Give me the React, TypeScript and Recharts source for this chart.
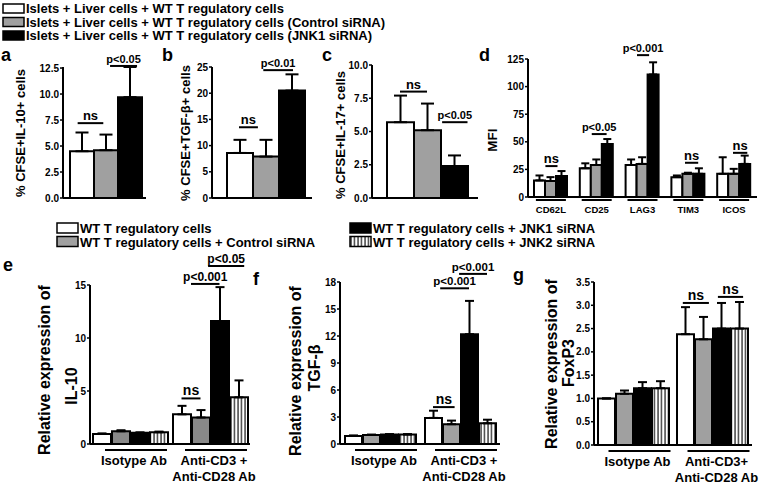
import React from 'react';
import { BarChart, Bar, XAxis, YAxis, ErrorBar, ReferenceLine } from 'recharts';

const FONT = '"Liberation Sans", Arial, sans-serif';

// legends
const topGroups = [
  'Islets + Liver cells + WT T regulatory cells',
  'Islets + Liver cells + WT T regulatory cells (Control siRNA)',
  'Islets + Liver cells + WT T regulatory cells (JNK1 siRNA)',
];
const bottomGroups = [
  'WT T regulatory cells',
  'WT T regulatory cells + Control siRNA',
  'WT T regulatory cells + JNK1 siRNA',
  'WT T regulatory cells + JNK2 siRNA',
];

// a-c: one value per group (white, gray, black)
const il10Mean = [4.5, 4.6, 9.7];
const il10Err = [1.8, 1.5, 2.9];
const tgfMean = [8.6, 7.9, 20.5];
const tgfErr = [2.5, 3.2, 3.1];
const il17Mean = [5.7, 5.1, 2.4];
const il17Err = [2.0, 2.0, 0.8];

// d: MFI
const markers = ['CD62L', 'CD25', 'LAG3', 'TIM3', 'ICOS'];
const mfiWhite = [15, 26, 29, 18, 21];
const mfiWhiteErr = [4.5, 4.5, 5, 1.5, 15];
const mfiGray = [14.5, 29, 30, 21, 21];
const mfiGrayErr = [3.5, 5, 6, 1, 4.5];
const mfiBlack = [19, 48, 111, 21, 30];
const mfiBlackErr = [4.5, 4.5, 11, 5, 7.5];

// e-g: isotype vs stimulated
const stimE = ['Isotype Ab', 'Anti-CD3 +\nAnti-CD28 Ab'];
const stimG = ['Isotype Ab', 'Anti-CD3+\nAnti-CD28 Ab'];
const il10RelMean = [[0.95, 2.8], [1.2, 2.5], [1.05, 11.6], [1.1, 4.4]];
const il10RelErr = [[0.05, 0.8], [0.1, 0.7], [0.05, 3.2], [0.07, 1.6]];
const tgfRelMean = [[0.9, 2.9], [1.0, 2.2], [1.05, 12.2], [1.05, 2.3]];
const tgfRelErr = [[0.05, 0.8], [0.05, 0.4], [0.05, 3.7], [0.05, 0.4]];
const foxRelMean = [[1.0, 2.38], [1.1, 2.27], [1.22, 2.5], [1.22, 2.5]];
const foxRelErr = [[0, 0.58], [0.07, 0.48], [0.13, 0.55], [0.15, 0.57]];

// tick labels
const ticksA = [0, 2.5, 5, 7.5, 10, 12.5];
const ticksB = [0, 5, 10, 15, 20, 25];
const ticksC = [0, 2.5, 5, 7.5, 10];
const ticksD = [0, 25, 50, 75, 100, 125];
const ticksE = [0, 5, 10, 15];
const ticksF = [0, 3, 6, 9, 12, 15, 18];
const ticksG = [0, 0.5, 1, 1.5, 2, 2.5, 3, 3.5];

type Sig = { cat: number; from: number; to: number; y: number; text: string };
const sigA: Sig[] = [
  { cat: 0, from: -0.05, to: 0.9, y: 7.2, text: 'ns' },
  { cat: 0, from: 1.15, to: 2.15, y: 12.7, text: 'p<0.05' },
];
const sigB: Sig[] = [
  { cat: 0, from: 0, to: 0.7, y: 13.5, text: 'ns' },
  { cat: 0, from: 0.9, to: 2, y: 24.4, text: 'p<0.01' },
];
const sigC: Sig[] = [
  { cat: 0, from: 0, to: 1, y: 8.0, text: 'ns' },
  { cat: 0, from: 1.56, to: 2.5, y: 5.7, text: 'p<0.05' },
];
const sigD: Sig[] = [
  { cat: 0, from: 0.5, to: 1.6, y: 28, text: 'ns' },
  { cat: 1, from: 0.55, to: 1.9, y: 57, text: 'p<0.05' },
  { cat: 2, from: 0.5, to: 1.6, y: 128.5, text: 'p<0.001' },
  { cat: 3, from: 0.7, to: 1.9, y: 31, text: 'ns' },
  { cat: 4, from: 0.9, to: 2.2, y: 40, text: 'ns' },
];
const sigE: Sig[] = [
  { cat: 1, from: 0, to: 1, y: 4.3, text: 'ns' },
  { cat: 1, from: 0.5, to: 2, y: 15.1, text: 'p<0.001' },
  { cat: 1, from: 1.4, to: 3.3, y: 16.8, text: 'p<0.05' },
];
const sigF: Sig[] = [
  { cat: 1, from: 0, to: 1.2, y: 4.1, text: 'ns' },
  { cat: 1, from: 0.4, to: 2, y: 17.3, text: 'p<0.001' },
  { cat: 1, from: 1.45, to: 3, y: 18.9, text: 'p<0.001' },
];
const sigG: Sig[] = [
  { cat: 1, from: -0.15, to: 1.3, y: 3.05, text: 'ns' },
  { cat: 1, from: 1.8, to: 3.2, y: 3.18, text: 'ns' },
];

const oneRow = (mean: number[], err: number[]) => {
  const r: any = { name: 'all' };
  mean.forEach((v, i) => {
    r['v' + i] = v;
    r['e' + i] = err[i];
  });
  return [r];
};

const byCat = (cats: string[], means: number[][], errs: number[][]) =>
  cats.map((c, j) => {
    const r: any = { name: c };
    means.forEach((m, i) => {
      r['v' + i] = m[j];
      r['e' + i] = errs[i][j];
    });
    return r;
  });

const dTick = (p: any) => (
  <g>
    <line x1={p.x - 15} x2={p.x + 15} y1={p.y + 3} y2={p.y + 3} stroke="#000" strokeWidth={2} />
    <text x={p.x} y={p.y + 16} textAnchor="middle" fontSize={9.5} fontWeight="bold" fill="#000">
      {p.payload.value}
    </text>
  </g>
);

const stimTick = (p: any) => {
  const lines = String(p.payload.value).split('\n');
  return (
    <g>
      <line x1={p.x - 25} x2={p.x + 37} y1={p.y + 6} y2={p.y + 6} stroke="#000" strokeWidth={2} />
      {lines.map((t, i) => (
        <text key={i} x={p.x + 4} y={p.y + 21 + i * 16} textAnchor="middle" fontSize={13} fontWeight="bold" fill="#000">
          {t}
        </text>
      ))}
    </g>
  );
};

type Cfg = {
  id: string;
  left: number;
  top: number;
  x0: number;
  x1: number;
  y0: number;
  y1: number;
  rows: any[];
  fills: string[];
  ticks: number[];
  dec: number;
  barSize: number;
  barGap: number;
  padL: number;
  padR: number;
  cap: number;
  sigs: Sig[];
  xh: number;
  tick: any;
  nsSize: number;
  pSize: number;
  mr: number;
};

function Panel({ c }: { c: Cfg }) {
  const yw = c.x0 - c.left;
  const mt = c.y0 - c.top;
  const mb = 6;
  const w = yw + (c.x1 - c.x0) + c.mr;
  const h = mt + (c.y1 - c.y0) + c.xh + mb;
  const n = c.fills.length;
  const step = c.barSize + c.barGap;
  const max = c.ticks[c.ticks.length - 1];

  const sigShape = (s: Sig) => (p: any) => {
    const off = (i: number) => (i - (n - 1) / 2) * step;
    const xa = p.x1 + off(s.from);
    const xb = p.x1 + off(s.to);
    const size = s.text === 'ns' ? c.nsSize : c.pSize;
    return (
      <g>
        <line x1={xa} x2={xb} y1={p.y1} y2={p.y1} stroke="#000" strokeWidth={2} />
        <text x={(xa + xb) / 2} y={p.y1 - 3} textAnchor="middle" fontSize={size} fontWeight="bold" fill="#000">
          {s.text}
        </text>
      </g>
    );
  };

  return (
    <div style={{ position: 'absolute', left: c.left, top: c.top }}>
      <BarChart
        width={w}
        height={h}
        data={c.rows}
        margin={{ top: mt, right: c.mr, left: 0, bottom: mb }}
        barSize={c.barSize}
        barGap={c.barGap}
      >
        <defs>
          <pattern id={c.id + 'stripe'} width={3.5} height={4} patternUnits="userSpaceOnUse">
            <rect width={3.5} height={4} fill="#fff" />
            <line x1={1} y1={0} x2={1} y2={4} stroke="#000" strokeWidth={1.1} />
          </pattern>
        </defs>
        <XAxis
          dataKey="name"
          axisLine={{ stroke: '#000', strokeWidth: 2 }}
          tickLine={false}
          tickSize={0}
          tickMargin={0}
          height={c.xh}
          interval={0}
          padding={{ left: c.padL, right: c.padR }}
          tick={c.tick}
        />
        <YAxis
          width={yw}
          domain={[0, max]}
          ticks={c.ticks}
          interval={0}
          tickFormatter={(v: number) => v.toFixed(c.dec)}
          axisLine={{ stroke: '#000', strokeWidth: 2 }}
          tickLine={{ stroke: '#000', strokeWidth: 1.5 }}
          tickSize={3}
          tickMargin={1}
          tick={{ fontSize: 10, fontWeight: 'bold', fill: '#000' }}
        />
        {c.fills.map((f, i) => (
          <Bar
            key={i}
            dataKey={'v' + i}
            fill={f === 'stripe' ? `url(#${c.id}stripe)` : f}
            stroke="#000"
            strokeWidth={2}
            isAnimationActive={false}
          >
            <ErrorBar
              dataKey={(d: any) => [0, d['e' + i]]}
              width={c.cap}
              stroke="#000"
              strokeWidth={2}
              isAnimationActive={false}
            />
          </Bar>
        ))}
        {c.sigs.map((s, k) => (
          <ReferenceLine
            key={k}
            segment={[
              { x: c.rows[s.cat].name, y: s.y },
              { x: c.rows[s.cat].name, y: s.y },
            ]}
            ifOverflow="visible"
            shape={sigShape(s)}
          />
        ))}
      </BarChart>
    </div>
  );
}

const fills3 = ['#ffffff', '#a0a0a0', '#000000'];

const panels: Cfg[] = [
  {
    id: 'a', left: 28, top: 48, x0: 63, x1: 146, y0: 67, y1: 198,
    rows: oneRow(il10Mean, il10Err), fills: fills3, ticks: ticksA, dec: 1, mr: 4,
    barSize: 27, barGap: 0, padL: 3, padR: 0, cap: 6.5, sigs: sigA, xh: 4, tick: false, nsSize: 13, pSize: 11,
  },
  {
    id: 'b', left: 190, top: 48, x0: 212, x1: 312, y0: 67, y1: 198,
    rows: oneRow(tgfMean, tgfErr), fills: fills3, ticks: ticksB, dec: 0, mr: 4,
    barSize: 26, barGap: 1, padL: 14, padR: 6, cap: 6.5, sigs: sigB, xh: 4, tick: false, nsSize: 13, pSize: 11,
  },
  {
    id: 'c', left: 346, top: 48, x0: 372, x1: 478, y0: 65, y1: 198,
    rows: oneRow(il17Mean, il17Err), fills: fills3, ticks: ticksC, dec: 1, mr: 4,
    barSize: 27, barGap: 0, padL: 14, padR: 10, cap: 6.5, sigs: sigC, xh: 4, tick: false, nsSize: 13, pSize: 11,
  },
  {
    id: 'd', left: 500, top: 38, x0: 528, x1: 757, y0: 59, y1: 197,
    rows: byCat(markers, [mfiWhite, mfiGray, mfiBlack], [mfiWhiteErr, mfiGrayErr, mfiBlackErr]),
    fills: fills3, ticks: ticksD, dec: 0, mr: 3,
    barSize: 11, barGap: 0, padL: 0, padR: 0, cap: 4, sigs: sigD, xh: 22, tick: dTick, nsSize: 13, pSize: 11,
  },
  {
    id: 'e', left: 62, top: 250, x0: 90, x1: 250, y0: 285, y1: 444,
    rows: byCat(stimE, il10RelMean, il10RelErr), fills: ['#ffffff', '#888888', '#000000', 'stripe'],
    ticks: ticksE, dec: 0, mr: 16,
    barSize: 18, barGap: 1, padL: 0, padR: 0, cap: 4.5, sigs: sigE, xh: 40, tick: stimTick, nsSize: 14, pSize: 12,
  },
  {
    id: 'f', left: 312, top: 252, x0: 340, x1: 500, y0: 282, y1: 444,
    rows: byCat(stimE, tgfRelMean, tgfRelErr), fills: ['#ffffff', '#a0a0a0', '#000000', 'stripe'],
    ticks: ticksF, dec: 0, mr: 16,
    barSize: 17, barGap: 1, padL: 0, padR: 0, cap: 4.5, sigs: sigF, xh: 40, tick: stimTick, nsSize: 14, pSize: 11.5,
  },
  {
    id: 'g', left: 566, top: 265, x0: 594, x1: 752, y0: 282, y1: 445,
    rows: byCat(stimG, foxRelMean, foxRelErr), fills: ['#ffffff', '#a0a0a0', '#000000', 'stripe'],
    ticks: ticksG, dec: 1, mr: 8,
    barSize: 17, barGap: 1, padL: 0, padR: 0, cap: 4.5, sigs: sigG, xh: 39, tick: stimTick, nsSize: 14, pSize: 12,
  },
];

// rotated axis titles: [text, x, centerY, size]
const titles: [string, number, number, number][] = [
  ['% CFSE+IL-10+ cells', 20, 133, 13],
  ['% CFSE+TGF-β+ cells', 185, 133, 13],
  ['% CFSE+IL-17+ cells', 340, 135, 13],
  ['MFI', 492, 140, 13.5],
  ['Relative expression of', 44, 370, 16],
  ['IL-10', 71, 386, 16],
  ['Relative expression of', 295, 371, 16],
  ['TGF-β', 314, 368, 16],
  ['Relative expression of', 551, 364, 16],
  ['FoxP3', 568, 363, 16],
];

const letters: [string, number, number][] = [
  ['a', 1, 61], ['b', 162, 61], ['c', 322, 61], ['d', 479, 61],
  ['e', 3, 271], ['f', 253, 285], ['g', 513, 281],
];

function Overlay() {
  const topFills = ['#ffffff', '#a0a0a0', '#000000'];
  const botFills = ['#ffffff', '#a0a0a0', '#000000', 'url(#legstripe)'];
  const botPos = [[57, 228], [57, 241.5], [350, 228], [350, 241.5]];
  return (
    <svg width={760} height={484} style={{ position: 'absolute', left: 0, top: 0, pointerEvents: 'none' }}>
      <defs>
        <pattern id="legstripe" width={3.5} height={4} patternUnits="userSpaceOnUse">
          <rect width={3.5} height={4} fill="#fff" />
          <line x1={1} y1={0} x2={1} y2={4} stroke="#000" strokeWidth={1.1} />
        </pattern>
      </defs>
      {topGroups.map((t, i) => (
        <g key={i}>
          <rect x={3} y={4 + i * 13.5} width={21} height={9} fill={topFills[i]} stroke="#000" strokeWidth={1.5} />
          <text x={26} y={13 + i * 13.5} fontSize={13} fontWeight="bold" fill="#000">{t}</text>
        </g>
      ))}
      {bottomGroups.map((t, i) => (
        <g key={i}>
          <rect x={botPos[i][0]} y={botPos[i][1] - 5} width={21} height={10} fill={botFills[i]} stroke="#000" strokeWidth={1.5} />
          <text x={botPos[i][0] + 23} y={botPos[i][1] + 5} fontSize={13} fontWeight="bold" fill="#000">{t}</text>
        </g>
      ))}
      {titles.map(([t, x, y, s], i) => (
        <text
          key={i}
          x={x}
          y={y}
          transform={`rotate(-90 ${x} ${y})`}
          textAnchor="middle"
          dominantBaseline="central"
          fontSize={s}
          fontWeight="bold"
          fill="#000"
        >
          {t}
        </text>
      ))}
      {letters.map(([t, x, y], i) => (
        <text key={i} x={x} y={y} fontSize={18} fontWeight="bold" fill="#000">{t}</text>
      ))}
    </svg>
  );
}

export default function App() {
  return (
    <div
      style={{
        position: 'absolute',
        left: 0,
        top: 0,
        width: 760,
        height: 484,
        background: '#fff',
        fontFamily: FONT,
        overflow: 'hidden',
      }}
    >
      {panels.map((c) => (
        <Panel key={c.id} c={c} />
      ))}
      <Overlay />
    </div>
  );
}
